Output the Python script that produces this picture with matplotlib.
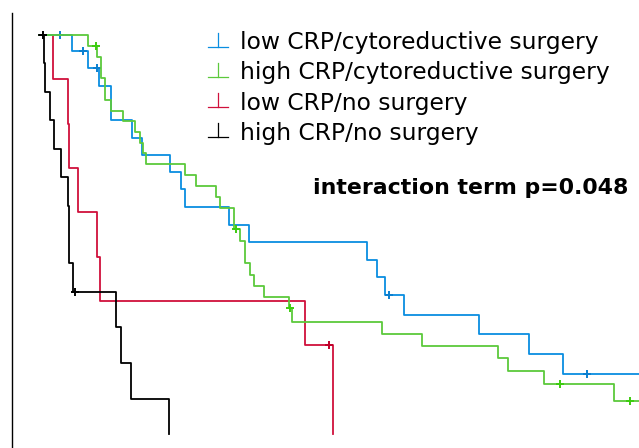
import matplotlib
matplotlib.use("Agg")
import matplotlib.pyplot as plt
from matplotlib.lines import Line2D

plt.rcParams['font.family'] = ['DejaVu Sans']

# Kaplan-Meier steps: event times (months) and survival just after each event
blue_t = [0, 6.5, 9.7, 11.9, 14.3, 18.5, 20.5, 26.2, 28.3, 29.2, 37.9, 42.0,
          65.5, 67.5, 69.1, 72.9, 87.9, 97.9, 104.7, 125]
blue_s = [1.0, 0.959, 0.917, 0.873, 0.787, 0.743, 0.699, 0.657, 0.613, 0.568,
          0.525, 0.480, 0.436, 0.393, 0.348, 0.299, 0.250, 0.200, 0.150, 0.150]
blue_cens_t = [4.1, 8.7, 11.6, 70.0, 109.5]
blue_cens_s = [1.0, 0.959, 0.917, 0.348, 0.150]

green_t = [0, 9.7, 11.5, 12.3, 13.1, 14.3, 16.7, 19.2, 20.2, 20.7, 21.4, 29.1,
           31.4, 35.3, 36.1, 38.9, 40.1, 41.2, 42.1, 42.9, 45.0, 49.9, 50.5,
           68.5, 76.5, 91.7, 93.7, 100.9, 114.9, 125]
green_s = [1.0, 0.973, 0.945, 0.891, 0.837, 0.810, 0.785, 0.758, 0.730, 0.704,
           0.677, 0.649, 0.622, 0.595, 0.567, 0.513, 0.484, 0.428, 0.398, 0.371,
           0.343, 0.315, 0.281, 0.251, 0.221, 0.190, 0.158, 0.125, 0.083, 0.083]
green_cens_t = [11.3, 39.3, 50.2, 104.1, 118.2]
green_cens_s = [0.973, 0.513, 0.315, 0.125, 0.083]

red_t = [0, 2.7, 5.8, 6.0, 7.7, 11.5, 12.1, 53.1, 58.7]
red_s = [1.0, 0.889, 0.778, 0.667, 0.556, 0.444, 0.333, 0.222, 0.0]
red_cens_t = [57.9]
red_cens_s = [0.222]

black_t = [0, 0.9, 1.2, 2.2, 2.9, 4.4, 5.7, 6.0, 6.7, 15.3, 16.3, 18.3, 25.9]
black_s = [1.0, 0.929, 0.857, 0.786, 0.714, 0.643, 0.571, 0.429, 0.357,
           0.268, 0.179, 0.089, 0.0]
black_cens_t = [0.7, 7.2]
black_cens_s = [1.0, 0.357]

labels = ["low CRP/cytoreductive surgery", "high CRP/cytoreductive surgery",
          "low CRP/no surgery", "high CRP/no surgery"]
colors = ["#0a8ee0", "#5cc93c", "#d0103c", "#000000"]
cens_colors = ["#0a7fd0", "#3dcc10", "#c0002a", "#000000"]

W, H = 639, 448
fig = plt.figure(figsize=(W / 100, H / 100), dpi=100)
ax = fig.add_axes([12 / W, 0, 627 / W, 435 / H])

curves = [(red_t, red_s, red_cens_t, red_cens_s, 2),
          (blue_t, blue_s, blue_cens_t, blue_cens_s, 0),
          (green_t, green_s, green_cens_t, green_cens_s, 1),
          (black_t, black_s, black_cens_t, black_cens_s, 3)]
for t, s, ct, cs, i in curves:
    ax.step(t, s, where='post', color=colors[i], lw=1.3)
    ax.plot(ct, cs, ls='none', marker='+', ms=6, mew=1.4, color=cens_colors[i])

ax.set_xlim(-5.4, 120)
ax.set_ylim(-0.035, 1.055)
for side in ['top', 'right', 'bottom']:
    ax.spines[side].set_visible(False)
ax.spines['left'].set_linewidth(1.0)
ax.set_xticks([])
ax.set_yticks([])


def fx(px):
    return px / W


def fy(py):
    return 1 - py / H


# legend drawn by hand: an upside-down T in the group colour, then the label
for i, (lab, c) in enumerate(zip(labels, colors)):
    base = 46.7 + 30.2 * i
    fig.add_artist(Line2D([fx(208), fx(228)], [fy(base), fy(base)], color=c, lw=0.9))
    fig.add_artist(Line2D([fx(218), fx(218)], [fy(base), fy(base - 14)], color=c, lw=0.9))
    fig.text(fx(240), fy(base + 2.5), lab, ha='left', va='baseline', fontsize=16.8)

fig.text(fx(628), fy(188), "interaction term p=0.048", ha='right',
         va='center', fontsize=15.8, fontweight='bold')

fig.savefig("out.png", dpi=100)
